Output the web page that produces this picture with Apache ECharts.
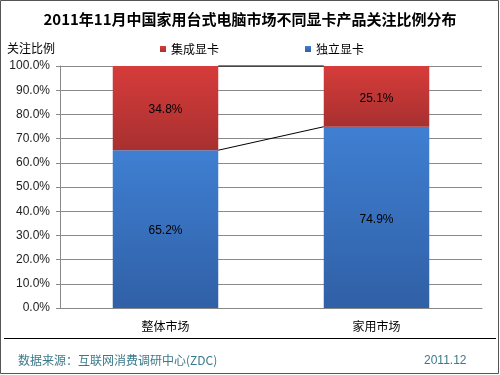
<!DOCTYPE html>
<html><head><meta charset="utf-8">
<script src="https://cdn.jsdelivr.net/npm/echarts@6/dist/echarts.min.js"></script>
<style>html,body{margin:0;padding:0;background:#fff}#c{width:500px;height:375px}</style>
</head><body><div id="c"></div>
<script>
var categories = ['整体市场', '家用市场'];
var integrated = [34.8, 25.1];   // 集成显卡
var discrete = [65.2, 74.9];     // 独立显卡
var yTicks = [0, 10, 20, 30, 40, 50, 60, 70, 80, 90, 100];

var chart = echarts.init(document.getElementById('c'), null, {renderer: 'canvas'});
var FONT = '"Noto Sans CJK SC", "Liberation Sans", sans-serif';
var BAR_FRAC = 0.5;

function seriesLine(getVal) {
  return {
    type: 'custom',
    silent: true,
    z: 5,
    data: [[0, getVal(0)]],
    renderItem: function (params, api) {
      var band = api.size([1, 0])[0];
      var half = band * BAR_FRAC / 2;
      var p0 = api.coord([0, getVal(0)]);
      var p1 = api.coord([1, getVal(1)]);
      return {
        type: 'line',
        shape: {x1: p0[0] + half, y1: p0[1], x2: p1[0] - half, y2: p1[1]},
        style: {stroke: '#000', lineWidth: 1}
      };
    }
  };
}

chart.setOption({
  animation: false,
  backgroundColor: '#fff',
  title: {
    text: '2011年11月中国家用台式电脑市场不同显卡产品关注比例分布',
    left: 'center', top: 7,
    textStyle: {fontFamily: FONT, fontSize: 15, fontWeight: 'bold', color: '#000'}
  },
  legend: {
    data: ['集成显卡', '独立显卡'],
    top: 38, left: 155,
    itemGap: 86,
    itemWidth: 6, itemHeight: 6,
    icon: 'rect',
    textStyle: {fontFamily: FONT, fontSize: 12, color: '#000'}
  },
  grid: {left: 60, right: 18, top: 66, bottom: 67},
  xAxis: {
    type: 'category',
    data: categories,
    axisLine: {lineStyle: {color: '#888'}},
    axisTick: {show: false},
    axisLabel: {fontFamily: FONT, fontSize: 12, color: '#000', margin: 12}
  },
  yAxis: {
    type: 'value',
    min: 0, max: 100, interval: 10,
    name: '关注比例',
    nameLocation: 'end',
    nameGap: 12,
    nameTextStyle: {fontFamily: FONT, fontSize: 12, color: '#000', align: 'right', padding: [0, 5, 0, 0]},
    axisLine: {show: true, lineStyle: {color: '#888'}},
    axisTick: {show: true, length: 4, lineStyle: {color: '#888'}},
    splitLine: {lineStyle: {color: '#8a8a8a'}},
    axisLabel: {
      fontFamily: '"Liberation Sans", Arial, sans-serif', fontSize: 12, color: '#222', margin: 10,
      formatter: function (v) { return v.toFixed(1) + '%'; }
    }
  },
  series: [
    {
      name: '独立显卡', type: 'bar', stack: 's', barWidth: '50%',
      data: discrete,
      itemStyle: {color: new echarts.graphic.LinearGradient(0, 0, 0, 1, [
        {offset: 0, color: '#3f7fd2'}, {offset: 1, color: '#3060a6'}])},
      label: {show: true, position: 'inside', fontFamily: '"Liberation Sans", Arial, sans-serif', fontSize: 12, color: '#000',
        offset: [0, 2],
        formatter: function (p) { return p.value.toFixed(1) + '%'; }}
    },
    {
      name: '集成显卡', type: 'bar', stack: 's', barWidth: '50%',
      data: integrated,
      itemStyle: {color: new echarts.graphic.LinearGradient(0, 0, 0, 1, [
        {offset: 0, color: '#d63c3a'}, {offset: 1, color: '#a83030'}])},
      label: {show: true, position: 'inside', fontFamily: '"Liberation Sans", Arial, sans-serif', fontSize: 12, color: '#000',
        offset: [0, 2],
        formatter: function (p) { return p.value.toFixed(1) + '%'; }}
    },
    seriesLine(function (i) { return discrete[i]; }),
    seriesLine(function (i) { return discrete[i] + integrated[i]; })
  ],
  color: ['#3f7fd2', '#c83636'],
  graphic: [
    {type: 'rect', shape: {x: 0.5, y: 0.5, width: 498, height: 373}, style: {fill: null, stroke: '#555', lineWidth: 1}, silent: true},
    {type: 'line', shape: {x1: 4, y1: 338.5, x2: 496, y2: 338.5}, style: {stroke: '#000', lineWidth: 1}, silent: true},
    {type: 'text', left: 18, top: 354, style: {text: '数据来源：互联网消费调研中心(ZDC)', fill: '#3a7a8a', font: '12px ' + FONT}},
    {type: 'text', left: 424, top: 355, style: {text: '2011.12', fill: '#3a7a8a', font: '12px "Liberation Sans", Arial, sans-serif'}}
  ]
});
</script></body></html>
